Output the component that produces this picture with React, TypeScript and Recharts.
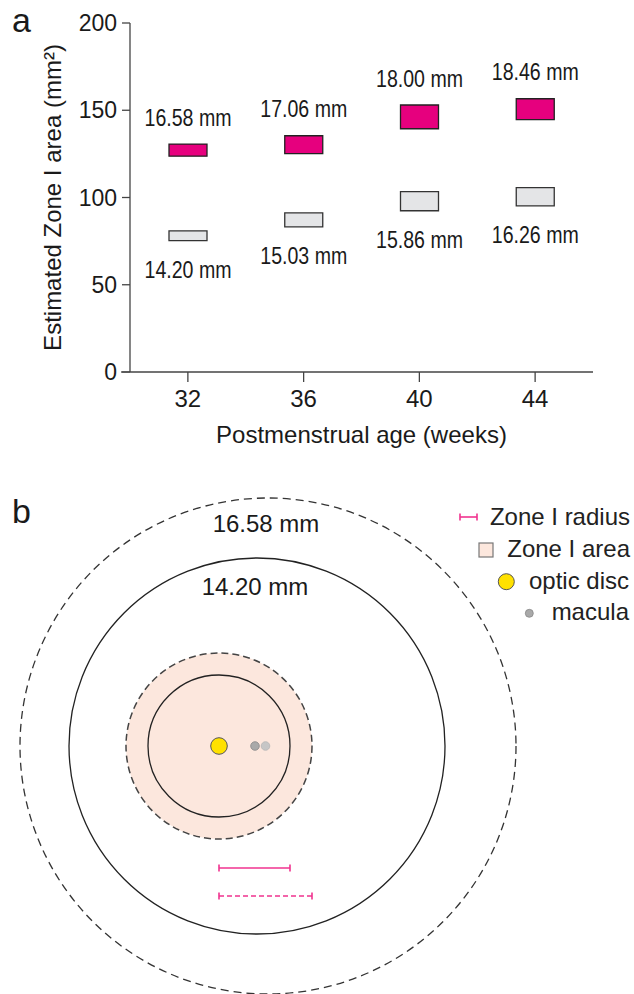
import { BarChart, Bar, XAxis, YAxis, LabelList, ScatterChart, Scatter, ReferenceLine } from 'recharts';

// panel a: estimated zone I area per age, two eye sizes (range bars)
const weeks = ['32', '36', '40', '44'];
const largeLow = [123.7, 125.2, 139.4, 144.6];
const largeHigh = [130.6, 135.4, 153.0, 156.6];
const largeRadius = ['16.58 mm', '17.06 mm', '18.00 mm', '18.46 mm'];
const smallLow = [75.3, 83.2, 92.4, 95.2];
const smallHigh = [80.9, 91.2, 103.4, 105.7];
const smallRadius = ['14.20 mm', '15.03 mm', '15.86 mm', '16.26 mm'];
const yTicks = [0, 50, 100, 150, 200];

// panel b: schematic, diagram units with the optic disc at the origin
const ringNames = ['eyeLarge', 'eyeSmall', 'zoneLarge', 'zoneSmall'];
const ringX = [49, 38, 0, 0];
const ringR = [248, 188, 93, 71];
const discX = [0];
const discR = [8.3];
const maculaX = [36, 46.5];
const maculaR = [4.3, 4.3];
const ringLabels = ['16.58 mm', '14.20 mm'];
const ringLabelX = [47, 36];
const ringLabelY = [223, 160];
const radiusLen = [71, 93];
const radiusY = [-122, -150];

const FONT = '"Liberation Sans", Arial, sans-serif';
const INK = '#1a1a1a';
const AXIS = '#444';
const MAGENTA = '#E6007E';
const GREY = '#E4E5E7';
const PINK = '#F0338F';
const PEACH = '#FCE7DD';

const areaData = weeks.map((w, i) => ({
  week: w,
  large: [largeLow[i], largeHigh[i]],
  small: [smallLow[i], smallHigh[i]],
  largeLabel: largeRadius[i],
  smallLabel: smallRadius[i],
}));

const B_W = 634;
const B_H = 524;
const B_X: [number, number] = [-219, 415];
const B_Y: [number, number] = [-248, 276];
const PX = B_W / (B_X[1] - B_X[0]);

const rings = ringNames.map((name, i) => ({ name, x: ringX[i], y: 0, r: ringR[i] }));
const discs = discX.map((x, i) => ({ x, y: 0, r: discR[i] }));
const maculas = maculaX.map((x, i) => ({ x, y: 0, r: maculaR[i], i }));
const labels = ringLabels.map((t, i) => ({ x: ringLabelX[i], y: ringLabelY[i], t }));

const ringStyle: Record<string, any> = {
  eyeLarge: { fill: 'none', stroke: '#333', strokeWidth: 1.3, strokeDasharray: '8 5' },
  eyeSmall: { fill: 'none', stroke: '#222', strokeWidth: 1.3 },
  zoneLarge: { fill: PEACH, stroke: '#444', strokeWidth: 1.5, strokeDasharray: '7 4' },
  zoneSmall: { fill: 'none', stroke: '#222', strokeWidth: 1.3 },
};

const radiusLabel = (above: boolean) => (props: any) => {
  const vb = props.viewBox || props;
  const x = vb.x ?? props.x;
  const y = vb.y ?? props.y;
  const w = vb.width ?? props.width;
  const h = vb.height ?? props.height;
  const top = Math.min(y, y + h);
  const bottom = Math.max(y, y + h);
  return (
    <text
      x={x + w / 2}
      y={above ? top - 27 : bottom + 29}
      textAnchor="middle"
      dominantBaseline="central"
      fontSize={24}
      fontFamily={FONT}
      fill={INK}
      textLength={87}
      lengthAdjust="spacingAndGlyphs"
    >
      {props.value}
    </text>
  );
};

export default function App() {
  return (
    <div style={{ position: 'absolute', left: 0, top: 0, width: 634, height: 994, background: '#fff', fontFamily: FONT }}>
      <BarChart width={634} height={460} data={areaData} margin={{ top: 23, right: 41, left: 0, bottom: 0 }}>
        <XAxis
          xAxisId="large"
          dataKey="week"
          height={88}
          tickSize={10}
          tickMargin={8}
          tick={{ fontSize: 24, fill: INK, fontFamily: FONT }}
          axisLine={{ stroke: AXIS, strokeWidth: 1.3 }}
          tickLine={{ stroke: AXIS, strokeWidth: 1.3 }}
          label={{ value: 'Postmenstrual age (weeks)', position: 'insideBottom', offset: 17, fontSize: 24, fill: INK, fontFamily: FONT }}
        />
        <XAxis xAxisId="small" dataKey="week" hide />
        <YAxis
          type="number"
          domain={[0, 200]}
          ticks={yTicks}
          width={130}
          tickSize={8}
          tickMargin={5}
          tick={{ fontSize: 23, fill: INK, fontFamily: FONT }}
          axisLine={{ stroke: AXIS, strokeWidth: 1.3 }}
          tickLine={{ stroke: AXIS, strokeWidth: 1.3 }}
          label={{
            value: 'Estimated Zone I area (mm²)',
            angle: -90,
            position: 'insideLeft',
            offset: 52,
            fontSize: 24,
            fill: INK,
            fontFamily: FONT,
            style: { textAnchor: 'middle' },
          }}
        />
        <Bar xAxisId="large" dataKey="large" barSize={38} fill={MAGENTA} stroke="#222" strokeWidth={1.3} isAnimationActive={false}>
          <LabelList dataKey="largeLabel" content={radiusLabel(true)} />
        </Bar>
        <Bar xAxisId="small" dataKey="small" barSize={38} fill={GREY} stroke="#333" strokeWidth={1.3} isAnimationActive={false}>
          <LabelList dataKey="smallLabel" content={radiusLabel(false)} />
        </Bar>
      </BarChart>

      <div style={{ position: 'absolute', left: 0, top: 470 }}>
        <ScatterChart width={B_W} height={B_H} margin={{ top: 0, right: 0, left: 0, bottom: 0 }}>
          <XAxis type="number" dataKey="x" domain={B_X} allowDataOverflow hide />
          <YAxis type="number" dataKey="y" domain={B_Y} allowDataOverflow hide />
          <Scatter
            data={rings}
            isAnimationActive={false}
            shape={(p: any) => <circle cx={p.cx} cy={p.cy} r={p.payload.r * PX} {...ringStyle[p.payload.name]} />}
          />
          <Scatter
            data={discs}
            isAnimationActive={false}
            shape={(p: any) => <circle cx={p.cx} cy={p.cy} r={p.payload.r * PX} fill="#FFE100" stroke="#555" strokeWidth={1} />}
          />
          <Scatter
            data={maculas}
            isAnimationActive={false}
            shape={(p: any) => (
              <circle
                cx={p.cx}
                cy={p.cy}
                r={p.payload.r * PX}
                fill={p.payload.i === 0 ? '#A9A9A9' : '#C6C6C6'}
                stroke={p.payload.i === 0 ? '#888' : '#B5B5B5'}
                strokeWidth={0.8}
              />
            )}
          />
          <Scatter
            data={labels}
            isAnimationActive={false}
            shape={(p: any) => (
              <text x={p.cx} y={p.cy} textAnchor="middle" dominantBaseline="central" fontSize={24} fontFamily={FONT} fill={INK}>
                {p.payload.t}
              </text>
            )}
          />
          {radiusLen.map((len, i) => (
            <ReferenceLine
              key={`r${i}`}
              segment={[{ x: 0, y: radiusY[i] }, { x: len, y: radiusY[i] }]}
              stroke={PINK}
              strokeWidth={1.6}
              strokeDasharray={i === 1 ? '5 3' : undefined}
              ifOverflow="visible"
            />
          ))}
          {radiusLen.flatMap((len, i) =>
            [0, len].map((x, j) => (
              <ReferenceLine
                key={`c${i}${j}`}
                segment={[{ x, y: radiusY[i] - 3.5 }, { x, y: radiusY[i] + 3.5 }]}
                stroke={PINK}
                strokeWidth={1.6}
                ifOverflow="visible"
              />
            ))
          )}
        </ScatterChart>
      </div>

      <svg width={634} height={994} style={{ position: 'absolute', left: 0, top: 0, pointerEvents: 'none' }}>
        <text x={12} y={32} fontSize={34} fontFamily={FONT} fill={INK}>a</text>
        <text x={12} y={523} fontSize={34} fontFamily={FONT} fill={INK}>b</text>
        <line x1={121} y1={372} x2={130} y2={372} stroke={AXIS} strokeWidth={1.3} />
        <g fontSize={24} fontFamily={FONT} fill="#222" textAnchor="end" dominantBaseline="central">
          <line x1={460} y1={517} x2={477} y2={517} stroke={PINK} strokeWidth={1.6} />
          <line x1={460} y1={513.5} x2={460} y2={520.5} stroke={PINK} strokeWidth={1.6} />
          <line x1={477} y1={513.5} x2={477} y2={520.5} stroke={PINK} strokeWidth={1.6} />
          <text x={630} y={516.7}>Zone I radius</text>
          <rect x={479} y={543} width={14} height={14} fill={PEACH} stroke="#777" strokeWidth={1.2} />
          <text x={630} y={548.3}>Zone I area</text>
          <circle cx={506.3} cy={581.7} r={8} fill="#FFE100" stroke="#555" strokeWidth={1} />
          <text x={629} y={580}>optic disc</text>
          <circle cx={529.3} cy={613.3} r={4} fill="#A9A9A9" stroke="#888" strokeWidth={0.8} />
          <text x={629} y={611.7}>macula</text>
        </g>
      </svg>
    </div>
  );
}
